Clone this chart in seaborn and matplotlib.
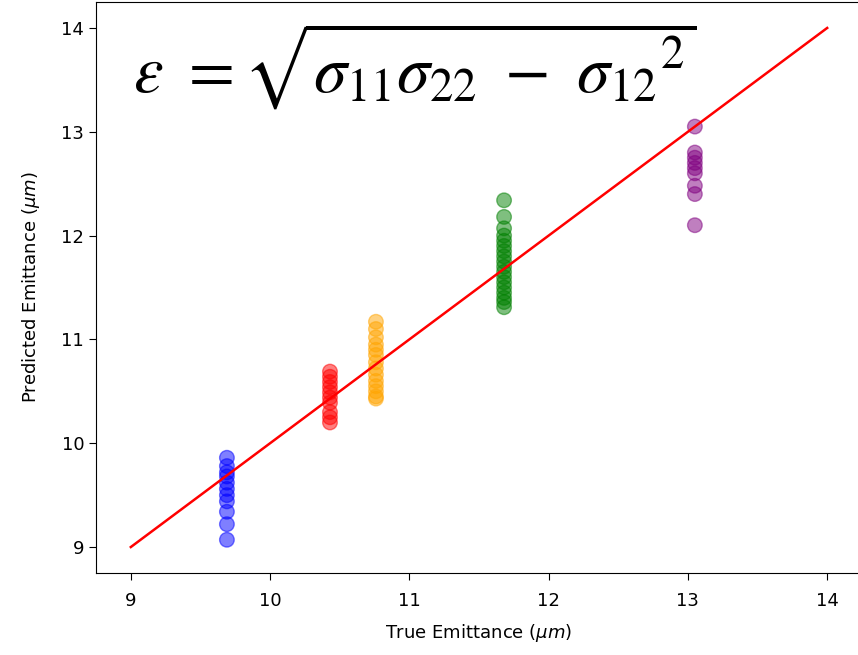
import matplotlib
matplotlib.use('Agg')
import matplotlib.pyplot as plt
import seaborn as sns
import pandas as pd

# true emittance per beam setting and predicted values
true_vals = [9.69, 10.43, 10.76, 11.68, 13.05]
colors = ['blue', 'red', 'orange', 'green', 'purple']

pred_blue = [9.86, 9.78, 9.72, 9.68, 9.62, 9.56, 9.50, 9.44, 9.34, 9.22, 9.07]
pred_red = [10.69, 10.64, 10.59, 10.54, 10.49, 10.44, 10.39, 10.30, 10.25, 10.20]
pred_orange = [11.17, 11.10, 11.02, 10.95, 10.90, 10.85, 10.78, 10.72, 10.66,
               10.60, 10.55, 10.50, 10.45, 10.43]
pred_green = [12.34, 12.18, 12.07, 12.00, 11.95, 11.90, 11.85, 11.80, 11.75,
              11.70, 11.65, 11.60, 11.55, 11.50, 11.45, 11.40, 11.36, 11.31]
pred_purple = [13.05, 12.80, 12.75, 12.70, 12.65, 12.60, 12.48, 12.40, 12.10]

line_x = [9, 14]
line_y = [9, 14]

preds = [pred_blue, pred_red, pred_orange, pred_green, pred_purple]
rows = []
for t, c, p in zip(true_vals, colors, preds):
    for v in p:
        rows.append({'true': t, 'pred': v, 'color': c})
df = pd.DataFrame(rows)

fig = plt.figure(figsize=(8.58, 6.55), dpi=100)
# right spine falls just outside the picture, as in the cropped original
ax = fig.add_axes([96/858, 82/655, 766/858, 571/655])

sns.scatterplot(data=df, x='true', y='pred', hue='color', palette={c: c for c in colors},
                s=110, alpha=0.5, edgecolor='face', linewidth=1, legend=False, ax=ax)
sns.lineplot(x=line_x, y=line_y, color='red', linewidth=1.8, ax=ax)

ax.set_xlim(8.75, 14.25)
ax.set_ylim(8.75, 14.25)
ax.set_xticks([9, 10, 11, 12, 13, 14])
ax.set_yticks([9, 10, 11, 12, 13, 14])
ax.tick_params(labelsize=13, length=5)
ax.tick_params(axis='x', pad=9)
ax.set_xlabel(r'True Emittance ($\mu m$)', fontsize=13, labelpad=8)
ax.set_ylabel(r'Predicted Emittance ($\mu m$)', fontsize=13, labelpad=14)

fig.text(0.155, 0.9, r'$\varepsilon\ =\sqrt{\sigma_{11}\sigma_{22}\ -\ {\sigma_{12}}^2}$',
         fontsize=48, va='center', ha='left', math_fontfamily='stix')

fig.savefig('out.png', dpi=100)
